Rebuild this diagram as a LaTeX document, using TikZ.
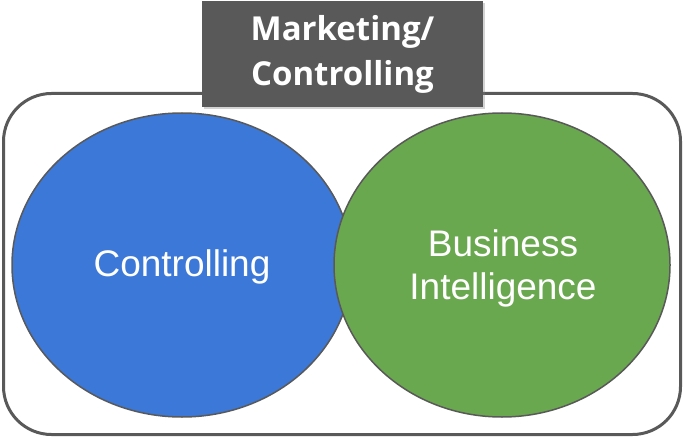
\documentclass[tikz,border=0pt]{standalone}
\usepackage{fontspec}
\setmainfont{Liberation Sans}
\newfontfamily\titlefont{Open Sans}
\usetikzlibrary{shadows}
\definecolor{dgray}{HTML}{595959}
\definecolor{cblue}{HTML}{3C78D8}
\definecolor{cgreen}{HTML}{6AA84F}
\tikzset{
  frame/.style={draw=dgray, line width=3pt, rounded corners=48pt},
  bubble/.style={fill=#1, draw=dgray, line width=1.5pt},
  bubbletext/.style={text=white, align=center, font=\fontsize{37}{43}\selectfont},
  titlebox/.style={fill=dgray, text=white, align=center, inner sep=0pt, font=\titlefont\bfseries\fontsize{33}{45}\selectfont, drop shadow={opacity=0.35, shadow xshift=2pt, shadow yshift=-2pt}}
}
\begin{document}
\begin{tikzpicture}[x=1pt,y=-1pt]
\useasboundingbox (0,0) rectangle (684,438);
\draw[frame] (3.5,93.5) rectangle (680.5,434.5);
\path[bubble=cblue] (182,265) ellipse [x radius=170, y radius=152];
\node[bubbletext] (ctrl) at (182,267) {Controlling};
\path[bubble=cgreen] (502,265) ellipse [x radius=168, y radius=152];
\node[bubbletext] (bi) at (503,268) {Business\\Intelligence};
\node[titlebox, minimum width=281pt, minimum height=106pt] (title) at (342.5,54) {Marketing/\\Controlling};
\end{tikzpicture}
\end{document}
